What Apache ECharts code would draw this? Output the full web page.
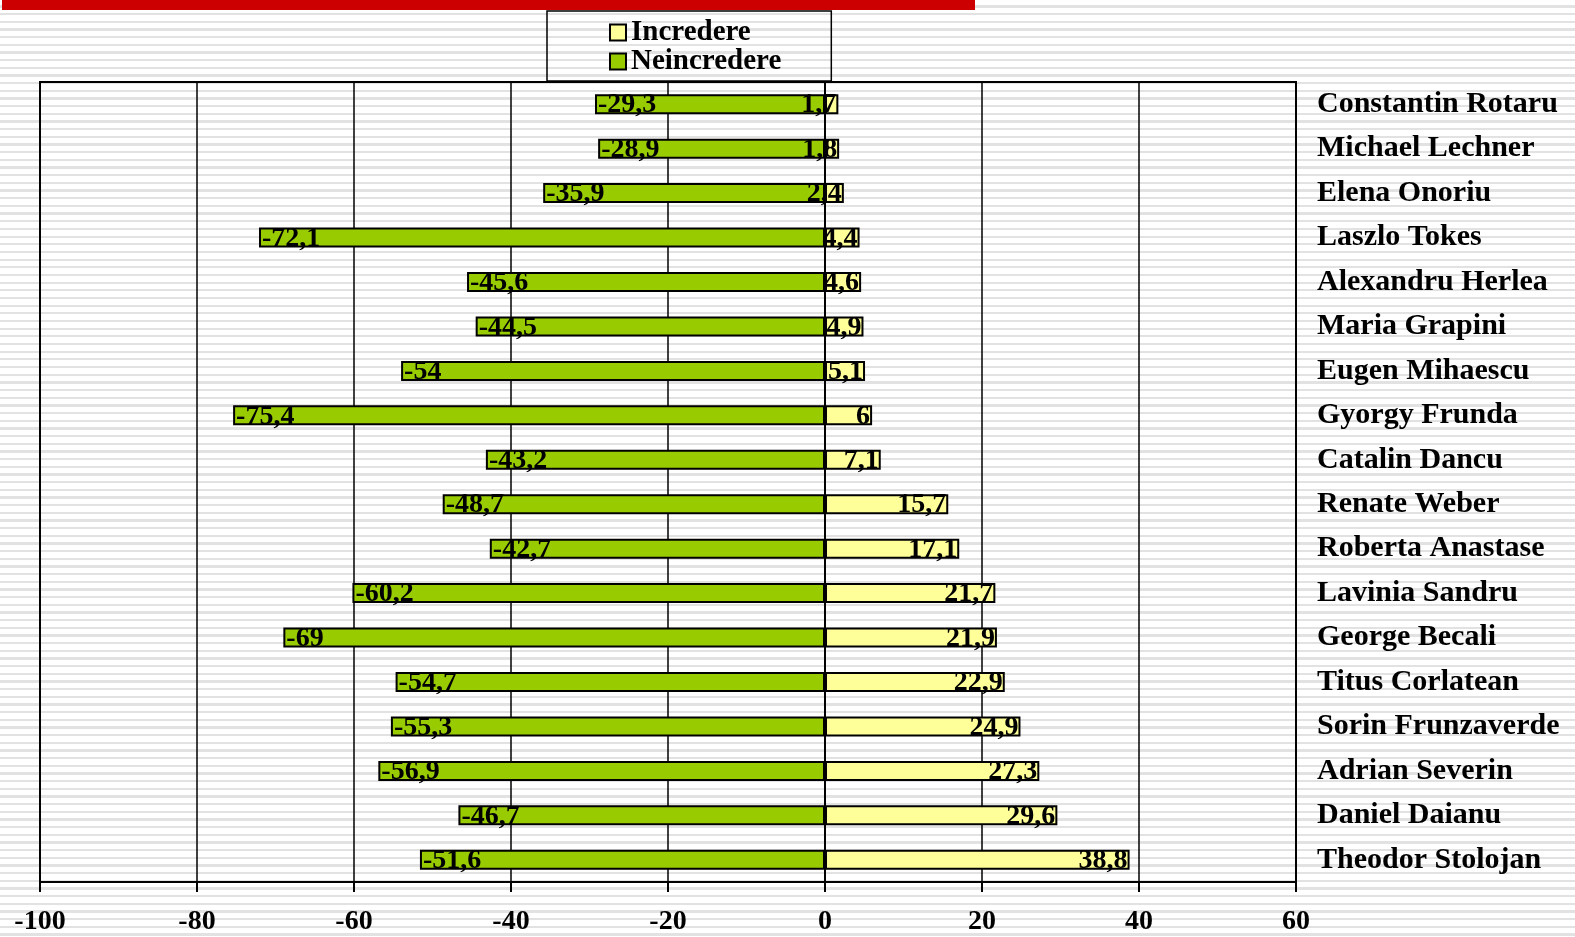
<!DOCTYPE html>
<html>
<head>
<meta charset="utf-8">
<title>Incredere / Neincredere</title>
<script src="https://cdn.jsdelivr.net/npm/echarts/dist/echarts.min.js"></script>
<style>
  html, body { margin: 0; padding: 0; }
  body {
    width: 1575px; height: 937px;
    background: repeating-linear-gradient(to bottom, #ffffff 0px, #ffffff 5.4px, #e2e2e2 5.4px, #e2e2e2 7.67px);
  }
  #chart { width: 1575px; height: 937px; }
</style>
</head>
<body>
<div id="chart"></div>
<script>
// date: de sus in jos
var names = ['Constantin Rotaru', 'Michael Lechner', 'Elena Onoriu', 'Laszlo Tokes', 'Alexandru Herlea',
  'Maria Grapini', 'Eugen Mihaescu', 'Gyorgy Frunda', 'Catalin Dancu', 'Renate Weber', 'Roberta Anastase',
  'Lavinia Sandru', 'George Becali', 'Titus Corlatean', 'Sorin Frunzaverde', 'Adrian Severin',
  'Daniel Daianu', 'Theodor Stolojan'];
var incredere = [1.7, 1.8, 2.4, 4.4, 4.6, 4.9, 5.1, 6, 7.1, 15.7, 17.1, 21.7, 21.9, 22.9, 24.9, 27.3, 29.6, 38.8];
var neincredere = [-29.3, -28.9, -35.9, -72.1, -45.6, -44.5, -54, -75.4, -43.2, -48.7, -42.7, -60.2, -69, -54.7, -55.3, -56.9, -46.7, -51.6];
var xTicks = [-100, -80, -60, -40, -20, 0, 20, 40, 60];

var serif = '"Liberation Serif", "Times New Roman", serif';
var myChart = echarts.init(document.getElementById('chart'));

function fmt(p) { return String(p.value).replace('.', ','); }

var option = {
  backgroundColor: 'transparent',
  animation: false,
  graphic: [{
    type: 'rect', left: 2, top: 0,
    shape: { width: 973, height: 10 },
    style: { fill: '#cc0000' }
  }],
  legend: {
    orient: 'vertical',
    left: 547, top: 11,
    padding: [7, 50, 5, 62],
    borderColor: '#000', borderWidth: 1.5,
    itemWidth: 16, itemHeight: 16, itemGap: 0,
    icon: 'rect',
    textStyle: { fontFamily: serif, fontWeight: 'bold', fontSize: 29, color: '#000', lineHeight: 29 },
    data: ['Incredere', 'Neincredere']
  },
  grid: {
    left: 40, right: 279, top: 82, bottom: 55,
    show: true, borderColor: '#000', borderWidth: 2, backgroundColor: 'transparent'
  },
  xAxis: {
    type: 'value', min: -100, max: 60, interval: 20,
    axisLine: { lineStyle: { color: '#000', width: 2 } },
    axisTick: { show: true, length: 10, lineStyle: { color: '#000', width: 2 } },
    splitLine: { lineStyle: { color: '#000', width: 1.5 } },
    axisLabel: {
      margin: 26, color: '#000', fontFamily: serif, fontWeight: 'bold', fontSize: 28,
      formatter: function (v) { return xTicks.indexOf(v) >= 0 ? String(v) : ''; }
    }
  },
  yAxis: [{
    type: 'category', inverse: true, data: names,
    axisLine: { onZero: true, lineStyle: { color: '#000', width: 2 } },
    axisTick: { length: 8, lineStyle: { color: '#000', width: 1.5 } },
    axisLabel: { show: false }
  }, {
    type: 'category', inverse: true, data: names, position: 'right',
    axisLine: { show: false, onZero: false },
    axisTick: { show: false },
    axisLabel: {
      margin: 21, padding: [5, 0, 0, 0], color: '#000',
      fontFamily: serif, fontWeight: 'bold', fontSize: 30
    }
  }],
  series: [{
    name: 'Neincredere', type: 'bar', stack: 'total', yAxisIndex: 0,
    barWidth: 20, data: neincredere,
    itemStyle: { color: '#99cc00', borderColor: '#000', borderWidth: 2 },
    label: {
      show: true, position: 'insideLeft', distance: 3, formatter: fmt, offset: [0, 1],
      color: '#000', fontFamily: serif, fontWeight: 'bold', fontSize: 28
    }
  }, {
    name: 'Incredere', type: 'bar', stack: 'total', yAxisIndex: 0,
    barWidth: 20, data: incredere,
    itemStyle: { color: '#ffff99', borderColor: '#000', borderWidth: 2 },
    label: {
      show: true, position: 'insideRight', distance: 2, formatter: fmt, offset: [0, 1],
      color: '#000', fontFamily: serif, fontWeight: 'bold', fontSize: 28
    }
  }]
};
myChart.setOption(option);
</script>
</body>
</html>
